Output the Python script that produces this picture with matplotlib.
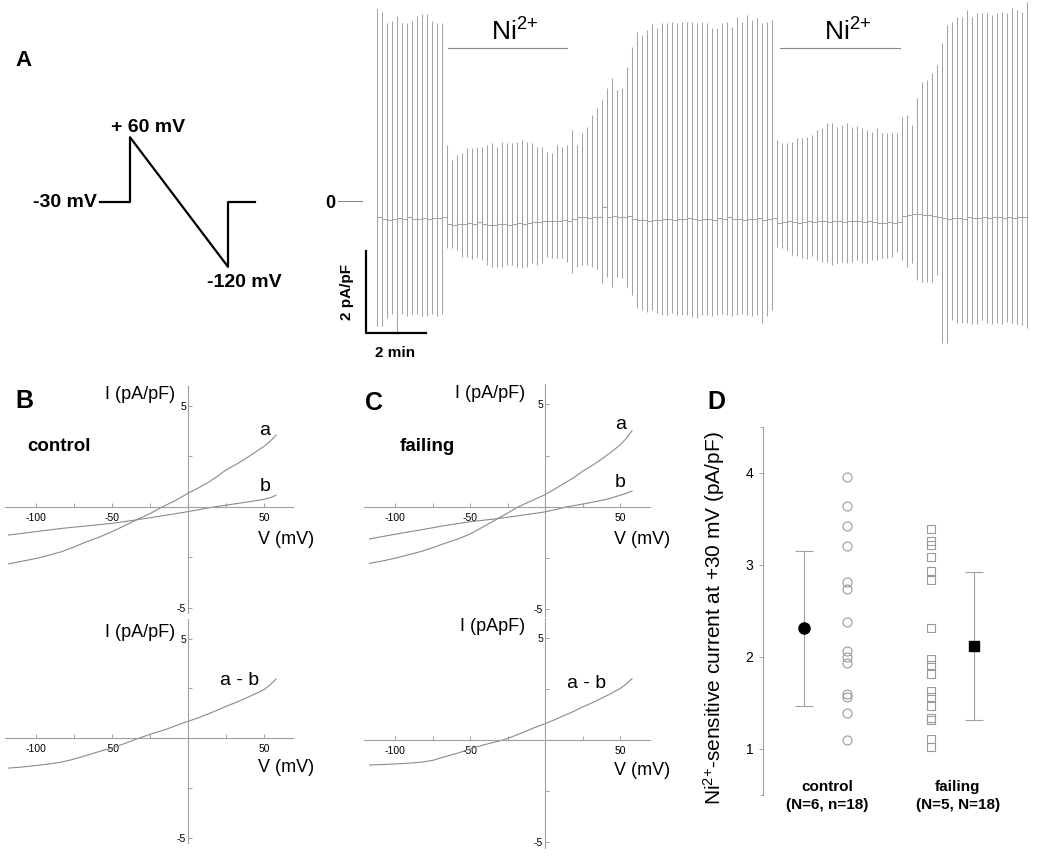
import matplotlib
matplotlib.use('Agg')
import matplotlib.pyplot as plt

plt.rcParams['font.family'] = ['Liberation Sans', 'DejaVu Sans']
plt.rcParams['mathtext.fontset'] = 'custom'
plt.rcParams['mathtext.rm'] = 'Liberation Sans'
plt.rcParams['mathtext.it'] = 'Liberation Sans:italic'
plt.rcParams['mathtext.bf'] = 'Liberation Sans:bold'

# ---- panel A: voltage protocol (ms, mV)
protocol_t = [0, 60, 60, 256, 256, 310]
protocol_v = [-30, -30, 60, -120, -30, -30]

# ---- panel A: current trace, one sweep every 10 s (pA/pF)
sweep_top = [4.70, 4.60, 4.35, 4.40, 4.50, 4.35, 4.35, 4.40, 4.50, 4.55, 4.55, 4.40, 4.35, 4.35,
             1.37, 1.00, 1.12, 1.17, 1.29, 1.29, 1.32, 1.32, 1.37, 1.41, 1.32, 1.44, 1.41, 1.41,
             1.44, 1.49, 1.44, 1.41, 1.32, 1.32, 1.20, 1.17, 1.37, 1.32, 1.37,
             1.73, 1.37, 1.66, 1.80, 2.10, 2.27, 2.46, 2.76, 3.00, 2.71, 2.76, 3.27, 3.76, 4.12,
             4.05, 4.17, 4.32, 4.22, 4.34, 4.34, 4.37, 4.34, 4.37, 4.37, 4.37, 4.34, 4.37,
             4.34, 4.22, 4.22, 4.34, 4.37, 4.25, 4.49, 4.37, 4.54, 4.41, 4.46, 4.34, 4.37, 4.41,
             1.49, 1.41, 1.41, 1.44, 1.54, 1.54, 1.56, 1.61, 1.73, 1.78, 1.90, 1.90, 1.80, 1.85,
             1.90, 1.80, 1.83, 1.78,
             1.73, 1.68, 1.78, 1.66, 1.66, 1.66, 1.66, 2.05, 2.10, 1.85, 2.51, 2.90, 2.95, 3.12,
             3.32, 3.85, 4.29, 4.37, 4.49, 4.49, 4.66, 4.49, 4.59, 4.59, 4.59, 4.54, 4.59, 4.61,
             4.59, 4.71, 4.66, 4.61, 4.85]
sweep_bottom = [-3.05, -3.05, -2.85, -2.75, -3.25, -2.75, -2.80, -2.75, -2.75, -2.80, -2.80, -2.75,
                -2.80, -2.75,
                -1.15, -1.15, -1.20, -1.37, -1.37, -1.41, -1.37, -1.44, -1.56, -1.61, -1.61, -1.61,
                -1.56, -1.56, -1.61, -1.63, -1.61, -1.52, -1.56, -1.52, -1.37, -1.39, -1.39, -1.39,
                -1.49,
                -1.76, -1.61, -1.56, -1.56, -1.61, -1.66, -2.00, -1.85, -2.10, -1.85, -1.88, -2.10,
                -2.29, -2.61, -2.66, -2.70, -2.66, -2.73, -2.78, -2.78, -2.73, -2.78, -2.78, -2.78,
                -2.83, -2.85, -2.78,
                -2.78, -2.80, -2.78, -2.75, -2.78, -2.80, -2.78, -2.75, -2.78, -2.80, -2.78, -2.98,
                -2.80, -2.65,
                -1.12, -1.15, -1.20, -1.32, -1.34, -1.39, -1.41, -1.34, -1.44, -1.49, -1.49, -1.56,
                -1.52, -1.49, -1.52, -1.49, -1.44, -1.52,
                -1.52, -1.44, -1.44, -1.39, -1.39, -1.37, -1.24, -1.44, -1.61, -1.52, -1.93, -1.98,
                -1.98, -1.98, -1.80, -3.46, -3.46, -2.90, -2.98, -2.98, -2.98, -3.00, -3.00, -2.90,
                -2.98, -3.00, -2.98, -3.00, -2.95, -2.98, -3.00, -3.02, -3.10]
sweep_base = [-0.40, -0.44, -0.46, -0.44, -0.42, -0.44, -0.40, -0.44, -0.44, -0.42, -0.44, -0.42,
              -0.42, -0.40,
              -0.56, -0.58, -0.56, -0.56, -0.54, -0.56, -0.52, -0.56, -0.58, -0.58, -0.56, -0.56,
              -0.58, -0.56, -0.54, -0.56, -0.54, -0.52, -0.52, -0.50, -0.50, -0.48, -0.48, -0.46,
              -0.50,
              -0.44, -0.40, -0.40, -0.42, -0.38, -0.40, -0.15, -0.40, -0.36, -0.40, -0.40, -0.36,
              -0.44, -0.46, -0.46, -0.48, -0.46, -0.46, -0.44, -0.44, -0.46, -0.44, -0.44, -0.42,
              -0.44, -0.46, -0.44,
              -0.44, -0.46, -0.42, -0.44, -0.40, -0.44, -0.44, -0.46, -0.44, -0.44, -0.42, -0.46,
              -0.44, -0.42,
              -0.54, -0.52, -0.50, -0.52, -0.54, -0.52, -0.50, -0.52, -0.50, -0.50, -0.52, -0.48,
              -0.50, -0.52, -0.50, -0.50, -0.48, -0.52, -0.50, -0.52, -0.54, -0.54, -0.52, -0.54,
              -0.52,
              -0.36, -0.34, -0.32, -0.32, -0.34, -0.34, -0.36, -0.40,
              -0.42, -0.44, -0.42, -0.42, -0.44, -0.40, -0.42, -0.42, -0.40, -0.42, -0.40, -0.40,
              -0.42, -0.40, -0.42, -0.40, -0.40, -0.40]
sweep_interval = 10
ni_periods = [(142, 380), (806, 1046)]

# ---- panels B / C: I-V curves (mV, pA/pF)
ctl_a_v = [-118, -110, -100, -92, -83, -75, -67, -58, -50, -42, -34, -25, -17, -8, 0, 7, 13,
           19, 25, 32, 38, 44, 50, 54, 58]
ctl_a_i = [-2.82, -2.70, -2.55, -2.40, -2.21, -1.98, -1.73, -1.48, -1.22, -0.94, -0.64, -0.33,
           0.0, 0.33, 0.68, 0.95, 1.20, 1.50, 1.83, 2.12, 2.40, 2.70, 3.00, 3.25, 3.56]
ctl_b_v = [-118, -100, -83, -67, -50, -34, -17, 0, 8, 17, 25, 35, 43, 50, 55, 58]
ctl_b_i = [-1.39, -1.22, -1.06, -0.94, -0.81, -0.64, -0.44, -0.23, -0.12, 0.0, 0.09, 0.20,
           0.29, 0.38, 0.48, 0.59]
ctl_d_v = [-118, -108, -100, -92, -84, -77, -70, -64, -58, -50, -41, -32, -24, -15, -8, 0, 7,
           13, 19, 25, 32, 38, 44, 50, 54, 58]
ctl_d_i = [-1.51, -1.45, -1.38, -1.31, -1.22, -1.10, -0.95, -0.81, -0.67, -0.50, -0.26, 0.0,
           0.21, 0.42, 0.62, 0.84, 1.02, 1.20, 1.39, 1.59, 1.80, 2.00, 2.21, 2.43, 2.66, 2.97]

fail_a_v = [-117, -108, -100, -92, -83, -75, -67, -58, -50, -42, -33, -25, -18, -9, 0, 6, 12,
            19, 25, 32, 38, 44, 50, 54, 58]
fail_a_i = [-2.75, -2.63, -2.50, -2.35, -2.18, -1.99, -1.78, -1.56, -1.32, -1.00, -0.63, -0.30,
            0.0, 0.30, 0.60, 0.85, 1.12, 1.42, 1.74, 2.05, 2.35, 2.67, 3.02, 3.33, 3.72]
fail_b_v = [-117, -100, -83, -67, -50, -33, -17, 0, 7, 14, 25, 35, 43, 50, 54, 58]
fail_b_i = [-1.56, -1.33, -1.12, -0.91, -0.72, -0.58, -0.42, -0.24, -0.13, 0.0, 0.14, 0.28,
            0.41, 0.57, 0.66, 0.78]
fail_d_v = [-117, -108, -100, -92, -83, -75, -67, -58, -50, -40, -29, -22, -15, -8, 0, 6, 12,
            19, 25, 32, 38, 44, 50, 54, 58]
fail_d_i = [-1.20, -1.18, -1.15, -1.12, -1.07, -0.98, -0.80, -0.62, -0.41, -0.20, 0.0, 0.18,
            0.38, 0.60, 0.82, 1.00, 1.20, 1.42, 1.64, 1.86, 2.08, 2.30, 2.54, 2.76, 3.03]

# ---- panel D: Ni-sensitive current at +30 mV (pA/pF)
ctl_cells = [3.96, 3.64, 3.42, 3.21, 2.81, 2.74, 2.38, 2.07, 2.00, 1.93, 1.60, 1.57, 1.39, 1.10]
fail_cells = [3.39, 3.26, 3.22, 3.09, 2.94, 2.84, 2.31, 1.98, 1.91, 1.82, 1.63, 1.56, 1.47,
              1.34, 1.31, 1.11, 1.02]
ctl_mean, ctl_sd = 2.31, 0.84
fail_mean, fail_sd = 2.12, 0.80
groups = ['control', 'failing']
group_n = ['(N=6, n=18)', '(N=5, N=18)']

W, H = 1050, 861
fig = plt.figure(figsize=(W / 100, H / 100), dpi=100)
TRACE = '#a4a4a4'
CURVE = '#8a8a8a'
AXC = '#a0a0a0'
NI = r'Ni$^{2{+}}$'


def px_axes(left, top, right, bottom):
    ax = fig.add_axes([left / W, 1 - bottom / H, (right - left) / W, (bottom - top) / H])
    ax.patch.set_alpha(0)
    return ax


def label(x, y, s, **kw):
    fig.text(x / W, 1 - y / H, s, ha='center', va='center', **kw)


# protocol
axp = px_axes(20, 100, 320, 300)
axp.set_xlim(-160, 440)
axp.set_ylim(-166.1, 111.7)
axp.axis('off')
axp.plot(protocol_t, protocol_v, color='black', lw=1.6)
axp.text(-6, -31, '-30 mV', ha='right', va='center', fontsize=14, fontweight='bold')
axp.text(96, 73, '+ 60 mV', ha='center', va='center', fontsize=14, fontweight='bold')
axp.text(288, -142, '-120 mV', ha='center', va='center', fontsize=14, fontweight='bold')

# trace
axt = px_axes(320, 0, 1045, 360)
axt.set_xlim(-114, 1336)
axt.set_ylim(-3.878, 4.902)
axt.axis('off')
t = [sweep_interval * i for i in range(len(sweep_top))]
axt.vlines(t, sweep_bottom, sweep_top, color=TRACE, lw=0.75)
axt.step(t, sweep_base, where='post', color=TRACE, lw=0.75)
for t0, t1 in ni_periods:
    axt.plot([t0, t1], [3.73, 3.73], color='#888888', lw=0.8)
    axt.text((t0 + t1) / 2 + 15, 4.12, NI, ha='center', va='center', fontsize=19)
axt.plot([-78, -30], [0, 0], color='#888888', lw=0.8)
axt.text(-94, -0.05, '0', ha='center', va='center', fontsize=13, fontweight='bold')
axt.plot([-22, -22, 98], [-1.22, -3.22, -3.22], color='black', lw=1.6)
axt.text(-60, -2.22, '2 pA/pF', rotation=90, ha='center', va='center', fontsize=11,
         fontweight='bold')
axt.text(36, -3.71, '2 min', ha='center', va='center', fontsize=11, fontweight='bold')


def iv_axes(left, top, right, bottom, xlim, ylim):
    ax = px_axes(left, top, right, bottom)
    ax.set_xlim(*xlim)
    ax.set_ylim(*ylim)
    for s in ['top', 'right']:
        ax.spines[s].set_visible(False)
    for s in ['left', 'bottom']:
        ax.spines[s].set_position(('data', 0))
        ax.spines[s].set_color(AXC)
        ax.spines[s].set_linewidth(0.8)
    ax.set_xticks([-100, -75, -50, -25, 25, 50])
    ax.set_xticklabels(['-100', '', '-50', '', '', '50'])
    ax.set_yticks([-5, -2.5, 2.5, 5])
    ax.set_yticklabels(['-5', '', '', '5'])
    ax.tick_params(direction='in', length=3, width=0.7, color=AXC, labelsize=7.5)
    ax.tick_params(axis='x', pad=4)
    ax.tick_params(axis='y', pad=1.5)
    return ax


# panel B
axb1 = iv_axes(5, 385.8, 293, 613, (-120.4, 69.1), (-5.25, 6.0))
axb1.plot(ctl_a_v, ctl_a_i, color=CURVE, lw=0.8)
axb1.plot(ctl_b_v, ctl_b_i, color=CURVE, lw=0.8)
axb1.text(50.6, 3.8, 'a', ha='center', va='center', fontsize=14)
axb1.text(50.6, 1.0, 'b', ha='center', va='center', fontsize=14)
axb1.text(-106, 2.97, 'control', ha='left', va='center', fontsize=13.5, fontweight='bold')
axb1.text(-8.5, 5.55, 'I (pA/pF)', ha='right', va='center', fontsize=13)
axb1.text(64.5, -1.63, 'V (mV)', ha='center', va='center', fontsize=13)

axb2 = iv_axes(5, 618.6, 293, 842.5, (-120.4, 69.1), (-5.25, 6.0))
axb2.plot(ctl_d_v, ctl_d_i, color=CURVE, lw=0.8)
axb2.text(34, 2.9, 'a - b', ha='center', va='center', fontsize=14)
axb2.text(-8.5, 5.3, 'I (pA/pF)', ha='right', va='center', fontsize=13)
axb2.text(64.5, -1.46, 'V (mV)', ha='center', va='center', fontsize=13)

# panel C
axc1 = iv_axes(363.5, 384, 650, 615.6, (-121, 70), (-5.3, 6.0))
axc1.plot(fail_a_v, fail_a_i, color=CURVE, lw=0.8)
axc1.plot(fail_b_v, fail_b_i, color=CURVE, lw=0.8)
axc1.text(50.4, 4.0, 'a', ha='center', va='center', fontsize=14)
axc1.text(50.4, 1.17, 'b', ha='center', va='center', fontsize=14)
axc1.text(-96.7, 2.97, 'failing', ha='left', va='center', fontsize=13.5, fontweight='bold')
axc1.text(-13.3, 5.55, 'I (pA/pF)', ha='right', va='center', fontsize=13)
axc1.text(64.7, -1.6, 'V (mV)', ha='center', va='center', fontsize=13)

axc2 = iv_axes(363.5, 618, 650, 847.6, (-121, 70), (-5.25, 6.0))
axc2.plot(fail_d_v, fail_d_i, color=CURVE, lw=0.8)
axc2.text(28, 2.8, 'a - b', ha='center', va='center', fontsize=14)
axc2.text(-13.3, 5.57, 'I (pApF)', ha='right', va='center', fontsize=13)
axc2.text(64.7, -1.48, 'V (mV)', ha='center', va='center', fontsize=13)

# panel D
axd = px_axes(763, 427, 1040, 795)
axd.set_ylim(0.5, 4.5)
axd.set_xlim(0.047, 6.49)
for s in ['top', 'right', 'bottom']:
    axd.spines[s].set_visible(False)
axd.spines['left'].set_color(AXC)
axd.spines['left'].set_linewidth(0.8)
axd.set_xticks([])
axd.set_yticks([1, 2, 3, 4])
axd.set_yticks([0.5, 4.5], minor=True)
axd.tick_params(axis='y', which='major', length=3, width=0.7, color=AXC, labelsize=10, pad=4)
axd.tick_params(axis='y', which='minor', length=2, width=0.7, color=AXC)
axd.errorbar([1.0], [ctl_mean], yerr=[ctl_sd], fmt='o', mfc='black', mec='black', ms=8,
             ecolor=AXC, elinewidth=0.8, capsize=6.5, capthick=0.8)
axd.errorbar([4.95], [fail_mean], yerr=[fail_sd], fmt='s', mfc='black', mec='black', ms=7,
             ecolor=AXC, elinewidth=0.8, capsize=6.5, capthick=0.8)
axd.plot([2.0] * len(ctl_cells), ctl_cells, 'o', mfc='none', mec='#999999', mew=0.8, ms=6.5)
axd.plot([3.95] * len(fail_cells), fail_cells, 's', mfc='none', mec='#999999', mew=0.8, ms=5.8)
for gx, g, n in zip([1.535, 4.58], groups, group_n):
    axd.text(gx, 0.587, g, ha='center', va='center', fontsize=11, fontweight='bold')
    axd.text(gx, 0.39, n, ha='center', va='center', fontsize=11, fontweight='bold')
axd.set_ylabel(NI + '-sensitive current at +30 mV (pA/pF)', fontsize=15)
axd.yaxis.set_label_coords(-0.13, 0.48)

# panel letters
label(23, 60, 'A', fontsize=16, fontweight='bold')
label(24, 401, 'B', fontsize=18, fontweight='bold')
label(374, 403, 'C', fontsize=18, fontweight='bold')
label(716, 402, 'D', fontsize=18, fontweight='bold')

fig.savefig('out.png', dpi=100)
